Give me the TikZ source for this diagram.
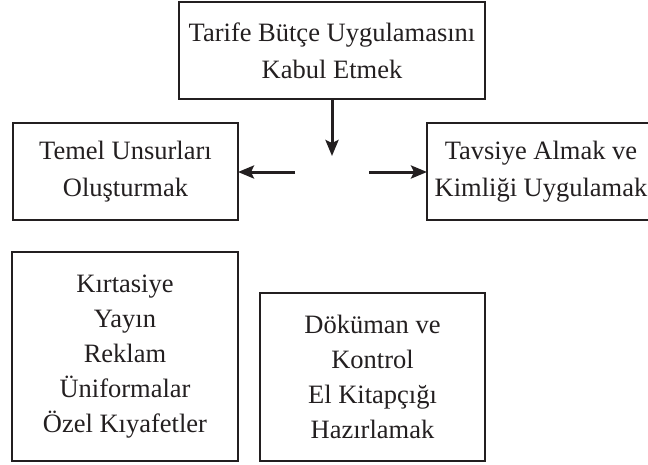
\documentclass[tikz,border=0pt]{standalone}
\usepackage{fontspec}
\setmainfont{Liberation Serif}
\usetikzlibrary{arrows.meta}
\definecolor{ink}{HTML}{231F20}
\begin{document}
\begin{tikzpicture}[x=1pt,y=-1pt,
  box/.style={draw=ink, line width=1.4pt, inner sep=0pt, outer sep=0pt, align=center,
    text=ink, font=\fontsize{26.5}{37}\selectfont},
  tallbox/.style={box, font=\fontsize{26.5}{35}\selectfont},
  arr/.style={draw=ink, line width=3pt, -{Stealth[length=16pt,width=13pt,inset=3pt]}}]
\useasboundingbox (0,0) rectangle (648,464);
\clip (0,0) rectangle (648,464);
\node[box, minimum width=306pt, minimum height=97pt] (top) at (332,50.5)
  {Tarife Bütçe Uygulamasını\\Kabul Etmek};
\node[box, minimum width=225pt, minimum height=97pt] (left) at (125.5,171.5)
  {Temel Unsurları\\Oluşturmak};
\node[box, minimum width=228pt, minimum height=97pt] (right) at (541,171.5)
  {Tavsiye Almak ve\\Kimliği Uygulamak};
\node[tallbox, minimum width=226pt, minimum height=209pt] (bl) at (125,356.5)
  {Kırtasiye\\Yayın\\Reklam\\Üniformalar\\Özel Kıyafetler};
\node[tallbox, minimum width=225pt, minimum height=168pt] (br) at (372.5,377)
  {Döküman ve\\Kontrol\\El Kitapçığı\\Hazırlamak};
\coordinate (dtip) at (332,156);
\coordinate (ls) at (295,172);
\coordinate (rs) at (369,172);
\draw[arr] (top.south) -- (dtip);
\draw[arr] (ls) -- (left.east |- ls);
\draw[arr] (rs) -- (right.west |- rs);
\end{tikzpicture}
\end{document}
